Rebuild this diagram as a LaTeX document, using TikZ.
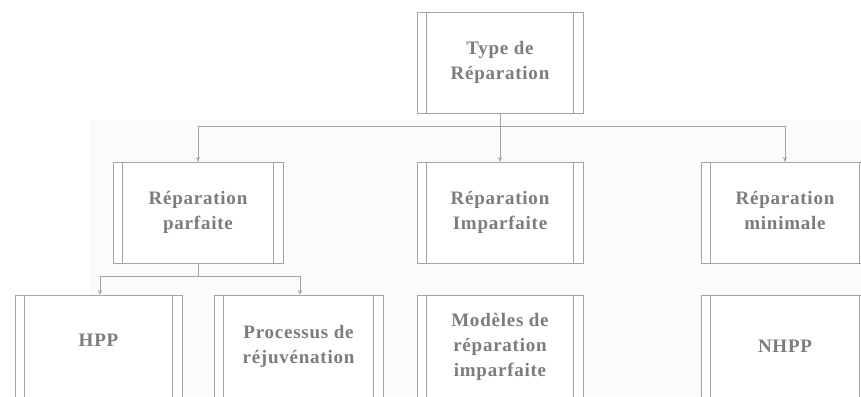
\documentclass[tikz,border=0pt]{standalone}
\usepackage{fontspec}
\setmainfont{Liberation Serif}
\usetikzlibrary{arrows.meta}
\definecolor{linegray}{HTML}{A4A4A4}
\definecolor{textgray}{HTML}{7C7C7C}
\begin{document}
\begin{tikzpicture}[x=1pt,y=-1pt,
  conn/.style={draw=linegray, line width=0.8pt},
  arr/.style={conn, -{Stealth[length=5pt,width=4pt]}},
  procbox/.style={draw=linegray, line width=0.8pt, fill=white, rectangle,
    anchor=north, minimum width=#1, inner sep=0pt,
    path picture={
      \draw[linegray, line width=0.8pt]
        ([xshift=9.5pt]path picture bounding box.north west) --
        ([xshift=9.5pt]path picture bounding box.south west);
      \draw[linegray, line width=0.8pt]
        ([xshift=-9.5pt]path picture bounding box.north east) --
        ([xshift=-9.5pt]path picture bounding box.south east);}},
  procbox/.default=166pt,
  rowbox/.style={procbox=#1, minimum height=101pt},
  rowbox/.default=166pt,
  lowbox/.style={procbox=#1, minimum height=130pt},
  lowbox/.default=166pt,
  lbl/.style={text=textgray, align=center,
    font=\fontsize{19}{25}\selectfont\bfseries\addfontfeature{LetterSpace=4}}
]
\useasboundingbox (0,0) rectangle (861,396);
\clip (0,0) rectangle (861,396);
% faint scanned backdrop
\fill[black!1.5] (90,120) rectangle (861,396);

% top level
\node[rowbox] (top) at (500,12) {};
\node[lbl] (topt) at (500,62.5) {Type de\\Réparation};

% second row
\node[rowbox=170pt] (parf) at (198,162) {};
\node[lbl] (parft) at (198,212.5) {Réparation\\parfaite};
\node[rowbox] (impf) at (500,162) {};
\node[lbl] (impft) at (500,212.5) {Réparation\\Imparfaite};
\node[rowbox=168pt] (mini) at (785,162) {};
\node[lbl] (minit) at (785,212.5) {Réparation\\minimale\vphantom{p}};

% third row
\node[lowbox=167pt] (hpp) at (98.5,295) {};
\node[lbl] (hppt) at (98.5,340) {HPP};
\node[lowbox=169pt] (proc) at (298.5,295) {};
\node[lbl] (proct) at (298.5,346) {Processus de\\réjuvénation};
\node[lowbox] (mod) at (500,295) {};
\node[lbl] (modt) at (500,347) {Modèles de\\réparation\\imparfaite};
\node[lowbox=168pt] (nhpp) at (785,295) {};
\node[lbl] (nhppt) at (785,346) {NHPP};

% connectors: top level to second row
\coordinate (j1) at (500,126);
\draw[conn] (top.south) -- (j1);
\draw[arr] (j1) -| (parf.north);
\draw[arr] (j1) -- (impf.north);
\draw[arr] (j1) -| (mini.north);

% connectors: perfect repair to its sub-models
\coordinate (j2) at (198,276);
\draw[conn] (parf.south) -- (j2);
\draw[arr] (j2) -| ([xshift=1.5pt]hpp.north);
\draw[arr] (j2) -| ([xshift=1.5pt]proc.north);
\end{tikzpicture}
\end{document}
